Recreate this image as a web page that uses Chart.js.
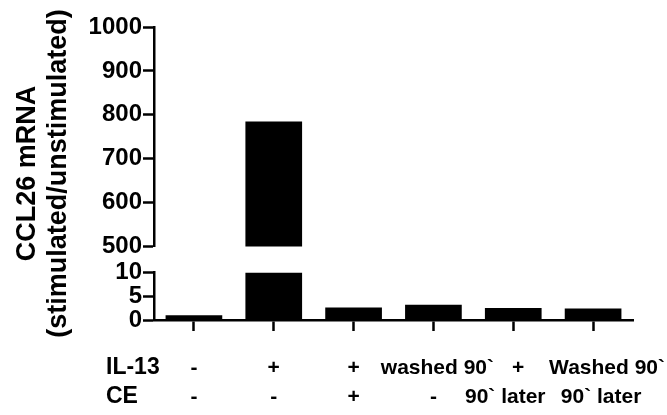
<!DOCTYPE html>
<html>
<head>
<meta charset="utf-8">
<script src="https://cdn.jsdelivr.net/npm/chart.js@4.4.0/dist/chart.umd.min.js"></script>
<style>
  html, body { margin: 0; padding: 0; background: #fff; }
  #wrap { position: relative; width: 667px; height: 415px; }
  #wrap canvas { position: absolute; left: 0; top: 0; }
</style>
</head>
<body>
<div id="wrap">
  <canvas id="lowChart" width="667" height="415"></canvas>
  <canvas id="highChart" width="667" height="415"></canvas>
</div>
<script>
  // treatment rows shown under each bar
  const rowNames = ["IL-13", "CE"];
  const il13Row = ["-", "+", "+", "washed 90`", "+", "Washed 90`"];
  const ceRow = ["-", "-", "+", "-", "90` later", "90` later"];
  const ccl26 = [1.0, 785, 2.65, 3.2, 2.55, 2.45];
  const yTitle = ["CCL26 mRNA", "(stimulated/unstimulated)"];

  // broken y axis: upper and lower segment
  const highRange = [500, 1000, 100];
  const lowRange = [0, 10, 5];

  const labels = il13Row.map(function (v, i) { return [v, ceRow[i]]; });
  const font = '"Liberation Sans", Arial, sans-serif';

  function yAxis(range) {
    return {
      min: range[0],
      max: range[1],
      afterFit: function (scale) { scale.width = 154; },
      border: { display: true, color: "#000", width: 2.5 },
      grid: {
        drawOnChartArea: false,
        drawTicks: true,
        tickLength: 11,
        tickWidth: 2.5,
        tickColor: "#000"
      },
      ticks: {
        stepSize: range[2],
        autoSkip: false,
        padding: 1,
        color: "#000",
        font: { family: font, size: 24, weight: "bold" },
        callback: function (value) { return String(value); }
      }
    };
  }

  function dataset() {
    return {
      data: ccl26,
      backgroundColor: "#000",
      borderWidth: 0,
      barPercentage: 0.71,
      categoryPercentage: 1,
      clip: 0
    };
  }

  // labels under the bars are typed a little off-centre in the original
  const rowNudge = [[0, 0, 0, 4, 5, 14], [0, 0, 0, 0, -8, 8]];

  const textPlugin = {
    id: "sideText",
    afterDraw: function (chart) {
      const ctx = chart.ctx;
      const x = chart.scales.x;
      const rowY = [374, 403];
      ctx.save();
      ctx.fillStyle = "#000";
      ctx.textBaseline = "alphabetic";

      ctx.font = "bold 23px " + font;
      ctx.textAlign = "left";
      ctx.fillText(rowNames[0], 106, rowY[0]);
      ctx.fillText(rowNames[1], 106, rowY[1]);

      ctx.font = "bold 21px " + font;
      ctx.textAlign = "center";
      labels.forEach(function (lab, i) {
        const px = x.getPixelForValue(i);
        ctx.fillText(lab[0], px + rowNudge[0][i], rowY[0]);
        ctx.fillText(lab[1], px + rowNudge[1][i], rowY[1]);
      });

      ctx.font = "bold 27px " + font;
      ctx.translate(35, 173.5);
      ctx.rotate(-Math.PI / 2);
      ctx.fillText(yTitle[0], 0, 0);
      ctx.fillText(yTitle[1], 0, 31);
      ctx.restore();
    }
  };

  const lowChart = new Chart(document.getElementById("lowChart"), {
    type: "bar",
    data: { labels: labels, datasets: [dataset()] },
    options: {
      responsive: false,
      animation: false,
      layout: { padding: { top: 272.7, right: 34, left: 0, bottom: 0 } },
      plugins: { legend: { display: false }, tooltip: { enabled: false } },
      scales: {
        x: {
          afterFit: function (scale) {
            scale.height = 95;
            scale.paddingLeft = 0;
            scale.paddingRight = 0;
          },
          border: { display: true, color: "#000", width: 2.5 },
          grid: {
            offset: false,
            drawOnChartArea: false,
            drawTicks: true,
            tickLength: 11,
            tickWidth: 2.5,
            tickColor: "#000"
          },
          ticks: { display: false, autoSkip: false, maxRotation: 0 }
        },
        y: yAxis(lowRange)
      }
    },
    plugins: [textPlugin]
  });

  const highChart = new Chart(document.getElementById("highChart"), {
    type: "bar",
    data: { labels: labels, datasets: [dataset()] },
    options: {
      responsive: false,
      animation: false,
      layout: { padding: { top: 27, right: 34, left: 0, bottom: 168.5 } },
      plugins: { legend: { display: false }, tooltip: { enabled: false } },
      scales: {
        x: { display: false },
        y: yAxis(highRange)
      }
    }
  });
</script>
</body>
</html>
